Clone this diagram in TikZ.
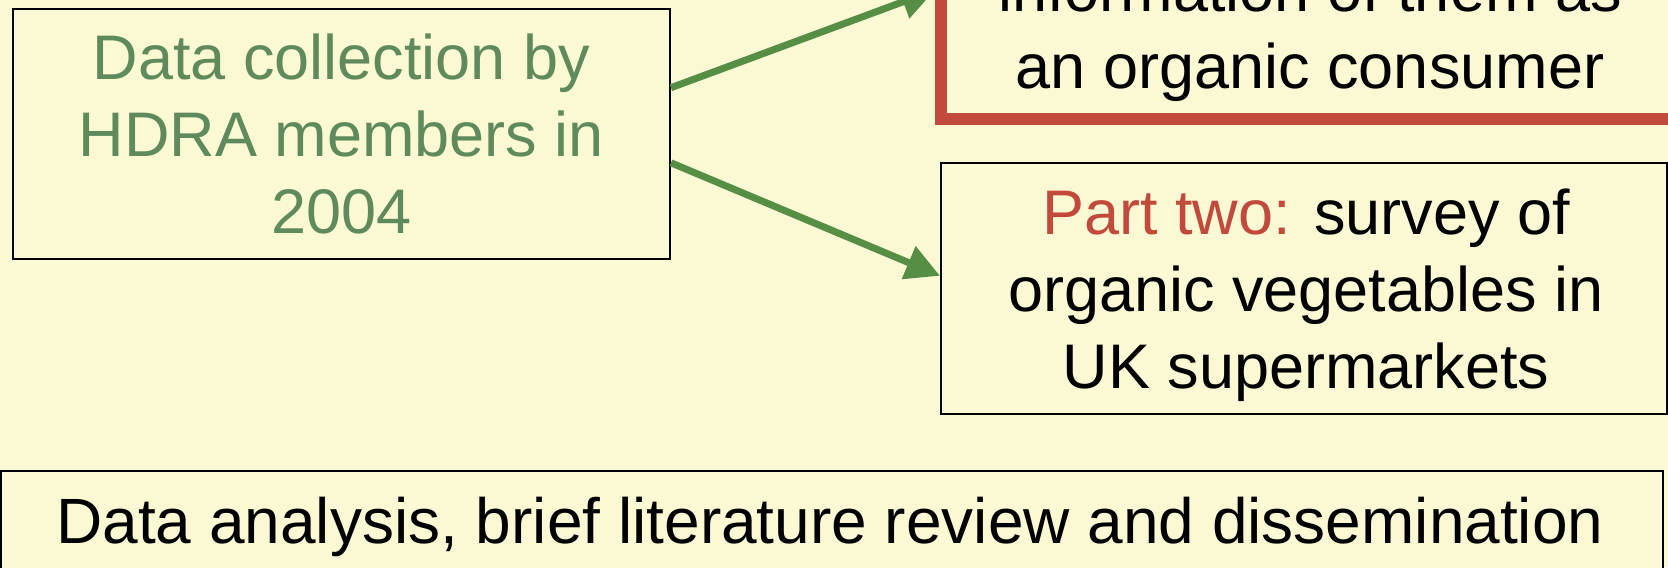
\documentclass[tikz,border=0pt]{standalone}
\usepackage{fontspec}
\setmainfont{Liberation Sans}
\usetikzlibrary{arrows.meta}
\definecolor{bg}{HTML}{FBF8D4}
\definecolor{gtext}{HTML}{5F8A5B}
\definecolor{garrow}{HTML}{578E45}
\definecolor{rbox}{HTML}{C14A3C}
\begin{document}
\begin{tikzpicture}[x=0.5pt,y=-0.5pt,
  plainbox/.style={draw=black, line width=1pt, fill=bg, rectangle, inner sep=0pt},
  redbox/.style={draw=rbox, line width=6pt, fill=bg, rectangle, inner sep=0pt},
  txt/.style={align=center, anchor=base, inner sep=0pt, font=\fontsize{31.5pt}{38.5pt}\selectfont},
  arr/.style={draw=garrow, line width=3.5pt, -{Triangle[length=17pt,width=17pt]}}]
\path[use as bounding box, fill=bg] (0,0) rectangle (1668,567);
\clip (0,0) rectangle (1668,567);
% boxes
\node[plainbox, minimum width=328.5pt, minimum height=125pt] (b1) at (341.5,134) {};
\node[redbox, minimum width=429.5pt, minimum height=159.5pt] (b0) at (1370.5,-40.5) {};
\node[plainbox, minimum width=363pt, minimum height=125.5pt] (b2) at (1304,288.5) {};
\node[plainbox, minimum width=831pt, minimum height=80pt] (b3) at (832,551) {};
% texts (base anchor = baseline of the last line)
\node[txt, text=gtext] (t1) at (341.5,233) {Data collection by\\HDRA members in\\2004};
\node[txt] (t0) at (1310,89) {information of them as\\an organic consumer};
\node[txt] (t2) at (1306,388) {\textcolor{rbox}{Part two:} survey of\\organic vegetables in\\UK supermarkets};
\node[txt, font=\fontsize{32pt}{38.5pt}\selectfont] (t3) at (830,543) {Data analysis, brief literature review and dissemination};
% arrows
\draw[arr] (b1.8.1) -- (b0.184.2);
\draw[arr] (b1.-5.7) -- (b2.178.3);
\end{tikzpicture}
\end{document}
